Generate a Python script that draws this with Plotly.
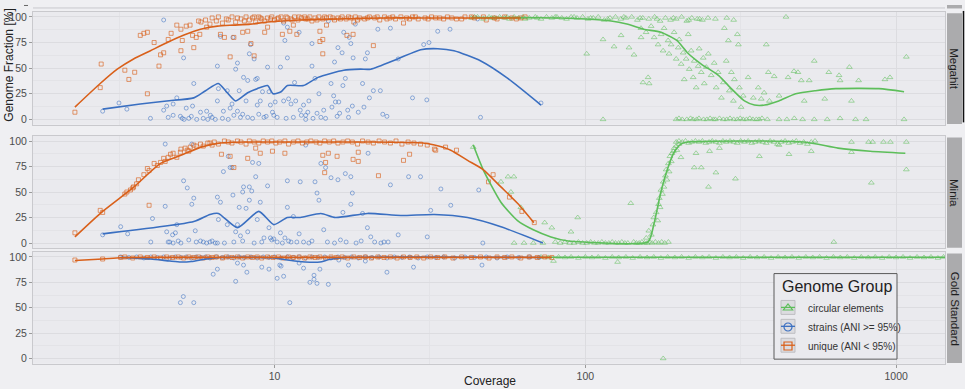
import plotly.graph_objects as go

# ---------------- data: (coverage, genome fraction %) ----------------
# ---- Megahit ----
megahit_unique = [
 (2.28,7),(2.75,31),(2.77,54),(3.3,48),(3.4,39),(3.55,46),(3.7,82),(3.8,84),(3.9,85),(3.9,25),
 (4.1,75),(4.25,52),(4.3,63),(4.4,65),(4.55,78),(4.65,84),(4.85,92),(5.0,67),(5.0,88),(5.05,77),
 (5.2,91),(5.35,92),(5.5,70),(5.45,82),(5.6,80),(5.7,96),(5.75,83),(6.05,90),(6.7,83),(6.9,80),
 (7.2,61),(7.4,80),(7.9,85),(8.2,86),(8.4,74),(8.6,62),(9.3,85),(9.5,90),(10.6,83),(11.2,86),
 (11.5,92),(11.8,83),(14.0,76),(14.3,78),(14.3,64),(14.7,92),(14.0,86),(17.1,82),(17.9,83),(18.0,95),
 (20.8,72),(26,94),(48,97),
 (5.8,95),(6.0,97),(6.2,93),(6.3,99),(6.5,96),(6.6,100),(6.8,94),(7.0,98),(7.1,97),(7.3,100),
 (7.5,95),(7.6,99),(7.8,98),(8.0,96),(8.1,100),(8.3,97),(8.5,99),(8.7,95),(8.9,100),(9.1,98),
 (9.3,96),(9.5,99),(9.8,100),(10.0,97),(10.2,98),(10.5,100),(10.7,96),(11.0,99),(11.3,98),(11.6,100),
 (11.9,97),(12.2,99),(12.5,100),(12.8,98),(13.2,96),(13.5,99),(13.9,100),(14.3,98),(14.7,99),(15.1,100),
 (15.6,97),(16.0,99),(16.5,100),(17.0,98),(17.6,99),(18.2,100),(18.8,99),(19.5,98),(20.2,100),(21.0,99),
 (21.8,97),(22.6,100),(23.5,99),(24.5,98),(25.5,100),(26.6,99),(27.8,100),(29.0,98),(30.5,99),(32.0,100),
 (34.0,99),(36.0,100),(38.5,98),(41.0,100),(44.0,99),(47.0,100),(51.0,99),(55.0,100),(60.0,98),(64.0,100),
 (8.6,100),(9.0,99),(9.7,98),(10.3,99),(10.9,100),(11.4,97),(12.0,100),(12.6,98),(13.0,100),(13.7,97),
 (14.5,100),(15.4,99),(16.3,98),(17.3,100),(18.5,97),(19.9,99),(21.4,100),(23.0,98),(24.0,100),(27.2,98),
 (28.4,100),(31.2,98),(33.0,99),(35.0,98),(37.2,99),(40.0,98),(43.0,100),(52.0,98),(58.0,99),(62.0,99),
]
megahit_unique_fit = [
 (2.28,12),(2.75,35),(3.12,49),(3.52,59),(3.99,67),(4.52,75),(5.09,82),(5.78,88),(6.55,91),(7.38,92),
 (8.37,93),(9.5,95),(12.1,97),(16,98),(22,99),(30,99),(45,99),(62,99),
]
megahit_strains = [
 (2.8,8),(3.16,16),(3.35,10),(3.99,1),(4.4,97),(4.4,9),(4.5,13),(4.55,2),(4.72,15),(4.72,4),
 (4.85,21),(4.98,3),(5.05,1),(5.1,60),(5.12,0),(5.2,11),(5.3,1),(5.45,13),(5.5,35),(5.62,0),
 (5.78,7),(5.9,1),(6.05,8),(6.1,0),(6.22,4),(6.45,0),(6.55,18),(6.55,52),(6.6,30),(6.7,81),
 (6.85,8),(7.05,28),(7.1,0),(7.2,11),(7.3,15),(7.35,80),(7.5,49),(7.6,8),(7.6,55),(7.7,28),
 (7.77,2),(7.9,5),(7.95,41),(8.1,18),(8.2,2),(8.2,38),(8.3,64),(8.37,73),(8.6,59),(8.7,39),
 (8.8,40),(8.8,14),(8.9,5),(9.0,18),(9.15,27),(9.25,2),(9.5,51),(9.6,27),(9.7,14),(9.85,7),
 (9.95,4),(10.05,17),(10.2,2),(10.45,51),(10.7,18),(10.7,94),(10.8,77),(11.0,60),(11.0,90),(11.1,20),
 (11.3,15),(11.6,36),(11.7,18),(12.0,85),(12.1,9),(12.2,4),(12.4,14),(12.6,4),(12.8,7),(12.9,18),
 (13.2,74),(13.2,52),(13.3,1),(13.5,40),(13.7,6),(13.9,25),(14.4,9),(14.6,1),(14.9,96),(15.2,35),
 (15.3,12),(15.5,23),(15.6,56),(15.7,17),(16.0,70),(16.1,17),(16.2,6),(16.5,65),(16.6,33),(16.7,85),
 (16.9,40),(17.2,9),(17.3,2),(17.4,80),(17.6,74),(17.8,13),(17.9,60),(18.2,93),(18.6,7),(19.2,35),
 (19.4,12),(19.6,59),(19.9,65),(20.2,21),(20.8,28),(21.5,88),(21.9,28),(22.3,5),(23.0,3),(23.6,89),
 (25.0,59),(27.8,21),(30.2,73),(30.9,19),(31.4,75),(33.5,86),(36.7,88),(46.0,2),(72.0,16),(45.0,98),
 (5.4,3),(6.3,2),(6.8,1),(7.4,4),(8.5,1),(9.4,3),(10.9,1),(11.5,2),(12.6,0),(14.1,2),(15.9,3),
]
megahit_strains_fit = [
 (2.8,10),(3.7,15),(4.5,18),(5.5,21),(6.0,28),(6.6,35),(7.0,27),(7.5,18),(8.2,26),(8.8,30),
 (9.5,33),(9.9,25),(10.5,27),(11,33),(12.4,33),(13.8,41),(16.7,48),(18.9,49),(20.4,49),(24.9,59),
 (29.5,68),(33.5,69),(37.8,67),(46.1,57),(56.3,40),(72,14),
]
megahit_circular = [
 (43,99),(45,100),(47,98),(49,100),(51,99),(53,100),(55,99),(57,98),(59,100),(61,99),
 (63,100),(66,99),(69,100),(72,98),(75,100),(78,99),(81,100),(84,99),(87,98),(90,100),
 (94,99),(98,100),(102,98),(106,99),(110,100),(115,97),(120,99),(125,100),(130,98),(135,99),
 (141,100),(147,97),(153,99),(160,98),(167,100),(174,96),(181,99),(188,97),(196,98),(204,100),
 (212,96),(220,99),(229,98),(238,97),(248,99),(262,98),(285,99),(300,97),(442,100),
 (44,100),(50,99),(56,100),(64,98),(70,99),(80,100),(92,100),(104,99),(118,98),(133,100),
 (150,99),(170,98),(192,99),(215,97),(233,98),
 (114,0),(196,0),(200,1),(205,0),(212,0),(218,1),(222,0),(228,0),(232,1),(240,0),
 (246,0),(252,1),(258,0),(262,0),(270,1),(278,0),(285,0),(292,1),(300,0),(308,0),
 (315,1),(322,0),(330,0),(338,1),(346,0),(355,0),(362,0),(370,1),(385,0),(420,0),
 (445,0),(470,1),(500,0),(545,0),(600,0),(660,1),(740,0),(800,0),(1060,0),
 (101,64),(114,78),(123.7,71),(130.3,82),(138.2,70),(143.4,63),(151.1,80),(153.3,36),(159.2,41),(160.4,35),
 (151,89),(156.8,85),(162.8,91),(166.5,80),(171.4,73),(175.3,83),(177.9,67),(179.2,89),(184.6,77),(185.9,64),
 (188.8,73),(193,85),(196,59),(199,70),(200.4,78),(203.4,54),(206.4,65),(208,39),(211,59),(214.3,83),
 (215.9,49),(219,67),(222.3,41),(224,57),(227.3,31),(230.7,52),(232.4,69),(236,46),(239.5,60),(241.3,35),
 (245,51),(248.6,64),(254,43),(259.7,55),(263.6,31),(267.5,46),(274,21),(278,36),(280,89),(284,57),
 (288.5,77),(290.6,28),(295,46),(299.4,18),(301.6,39),(308.4,83),(310.7,73),(313,31),(317,12),(322,23),
 (334,41),(347,21),(360,31),(368,20),(376,26),(382,73),(388,46),(391,18),(405,42),(420,23),
 (449,41),(469,47),(483,46),(495,38),(506,18),(525,38),(545,57),(589,20),(607,46),(655,43),
 (660,38),(707,51),(718,18),(757,38),(920,39),(955,41),(1078,61),
]
megahit_circular_fit = [
 (43,99.5),(60,99.3),(83.5,99),(100,98),(121,96),(136,93),(154,88),(175,85),(197,77),(213,65),
 (236,54),(268,43),(295,30),(325,18),(350,14),(378,14),(419,18),(475,25),(550,28),(640,30),
 (880,30),(1060,27),
]

# ---- Minia ----
minia_unique = [
 (2.28,10),(2.75,32),(2.8,30),(3.3,48),(3.35,50),(3.44,52),(3.5,54),(3.52,55),(3.6,58),(3.65,62),
 (3.8,67),(3.9,73),(3.95,71),(3.95,37),(4.1,78),(4.2,76),(4.3,79),(4.4,83),(4.45,80),(4.55,84),
 (4.63,87),(4.72,88),(4.85,84),(4.98,89),(5.0,92),(5.16,93),(5.24,91),(5.3,90),(5.36,94),(5.5,96),
 (5.6,95),(5.78,97),(5.9,95),(6.1,98),(6.3,96),
 (6.2,98),(6.4,99),(6.6,97),(6.9,100),(7.1,99),(7.3,98),(7.6,100),(7.8,99),(8.1,97),(8.3,100),
 (8.6,99),(8.9,98),(9.2,100),(9.5,99),(9.8,100),(10.1,98),(10.4,99),(10.8,100),(11.1,97),(11.5,99),
 (11.9,100),(12.3,98),(12.7,99),(13.1,100),(13.6,99),(14.0,98),(14.5,100),(15.0,99),(15.5,100),(16.0,98),
 (16.6,99),(17.2,100),(17.8,99),(18.5,97),(19.2,100),(20.0,99),(20.8,98),(21.7,100),(22.6,99),(23.6,98),
 (24.6,100),(25.7,97),(26.9,99),(28.1,98),(29.5,97),(31.0,96),
 (6.75,87),(7.2,85),(7.4,74),(8.2,83),(8.7,93),(9.0,88),(9.85,90),(10.8,88),(14.3,86),(14.9,88),
 (15.9,85),(14.6,79),(14.5,69),(17.9,82),(18.6,80),(18.6,89),(21.6,66),(26.0,81),(27.2,87),(32.7,92),
 (33,91),(35.5,94),(38.5,91),(48.8,60),(50.5,67),(57,45),(62.5,31),(68.5,20),
]
minia_unique_fit = [
 (2.28,6),(2.8,31),(3.5,54),(4.3,78),(5.0,86),(5.8,94),(6.7,98),(8,99),(12,99),(20,99),
 (30,98),(32.7,96),(36.9,91),(41.8,81),(46.9,72),(53.5,55),(60.5,39),(68.3,20),
]
minia_strains = [
 (2.8,8),(3.2,16),(3.37,9),(4.0,1),(4.05,24),(4.45,36),(4.45,97),(4.5,11),(4.55,1),(4.7,8),
 (4.72,0),(4.8,10),(4.85,18),(5.1,61),(5.24,54),(5.42,97),(5.42,38),(5.5,44),(5.56,12),(5.6,1),
 (5.78,2),(6.05,0),(6.2,1),(6.45,0),(6.55,0),(6.55,45),(6.6,23),(6.7,40),(6.85,70),(7.05,18),
 (7.1,85),(7.2,74),(7.3,74),(7.35,47),(7.5,11),(7.6,18),(7.7,35),(7.77,7),(7.9,50),(7.95,55),
 (8.1,34),(8.2,11),(8.3,42),(8.3,55),(8.45,51),(8.5,79),(8.7,65),(8.8,23),(8.9,78),(9.0,40),
 (9.25,5),(9.5,56),(9.6,15),(9.7,5),(9.95,4),(10.2,1),(10.45,10),(10.8,5),(11,61),(11,35),
 (11.3,1),(11.5,26),(11.8,1),(12,9),
 (12.1,60),(12.6,96),(13.5,60),(13.7,49),(13.9,42),(14.1,78),(14.6,74),(14.4,13),(15.2,64),(16,62),
 (16.6,30),(16.9,68),(17.6,65),(17.8,49),(17.6,38),(19.2,29),(20,88),(19.9,15),(20.4,6),(22,0),
 (23.6,57),(25,8),(27,65),(29.5,65),(31,6),(31.8,32),(34.3,53),(36.9,37),(45.4,52),(46.8,0),
 (22.5,1),(23.2,1),
 (4.6,1),(4.9,2),(5.0,0),(5.3,3),(5.9,1),(6.3,2),(6.9,0),(7.4,1),(7.9,2),(8.6,0),
 (9.1,1),(9.8,3),(10.6,0),(11.1,2),(12.4,1),(12.9,0),(13.2,2),(14.8,1),(15.6,0),(16.3,3),
 (17.0,1),(18.3,0),(19.0,2),(21.0,1),
]
minia_strains_fit = [
 (2.8,9),(5.5,21),(6.2,28),(6.6,29),(7.6,15),(8.9,31),(9.95,18),(11,25),(12.1,25),(14.1,29),
 (15.7,25),(19.9,29),(25.5,27),(32.7,28),(41.8,25),(53.5,16),(73,0),
]
minia_circular = [
 (43.6,94),(53.5,60),(56.4,65),(57.6,50),(58.9,65),(62,35),(74,20),(78,15),(89.9,11),(94.5,25),
 (59,0),(63.5,0),(68,0),(73,0),
 (80,1),(83,0),(86,1),(89,0),(92,0),(95,1),(98,0),(101,0),(104,1),(107,0),
 (110,0),(113,1),(116,0),(119,0),(122,1),(125,0),(128,0),(131,1),(134,0),(137,0),
 (143,1),(146,0),(149,0),(152,1),(155,0),(158,0),(161,1),(164,0),(168,1),(172,0),
 (176,1),(180,0),(185,1),(140,39),(630,1),
 (157,5),(160,12),(163,8),(165,18),(166,25),(169,30),(171,22),(172,38),(173,44),(174,35),
 (175,52),(177,48),(178,60),(179,55),(181,66),(182,72),(183,62),(185,78),(186,70),(187,85),
 (189,80),(190,88),(192,90),(193,93),(196,95),(197,91),(200,97),
 (196,99),(200,100),(205,99),(210,100),(215,98),(220,99),(226,100),(232,99),(238,100),(244,98),
 (250,99),(256,100),(263,99),(270,98),(277,100),(284,99),(292,100),(300,99),(308,98),(316,100),
 (325,99),(334,100),(343,98),(352,99),(362,100),(372,99),(382,98),(393,100),(404,99),(415,97),
 (427,99),(439,100),(451,98),(464,99),(477,100),(490,98),(504,99),(518,97),(533,99),(548,100),
 (203,84),(227,88),(224,74),(236,74),(249,55),(251,90),(263,69),(270,93),(304,63),(363,85),
 (420,96),(452,87),(533,90),(718,89),(832,59),(1078,72),(1078,99),
 (718,99),(815,99),(840,99),(910,99),(958,99),
]
minia_circular_fit = [
 (43.6,96),(46.9,72),(53.5,40),(60.5,22),(68,13),(77.5,6),(88,2),(99,1),(159,1),(166,18),
 (175,50),(184,73),(193,89),(203,97),(213,99),(505,99),(650,93),(825,90),(1070,88),
]

# ---- Gold Standard ----
gold_unique = [
 (2.28,97),(2.8,98),(3.2,99.5),
 (3.3,100),(3.5,99),(3.7,100),(3.9,99.5),(4.1,100),(4.3,99),(4.5,100),(4.7,99.5),(4.9,100),(5.1,99),
 (5.3,100),(5.5,99.5),(5.7,100),(5.9,99),(6.1,100),(6.3,99.5),(6.5,100),(6.8,99),(7.0,100),(7.3,99.5),
 (7.6,100),(7.9,99),(8.2,100),(8.5,99.5),(8.8,100),(9.1,99),(9.5,100),(9.9,99.5),(10.3,100),(10.7,99),
 (11.1,100),(11.5,99.5),(12.0,100),(12.5,99),(13.0,100),(13.5,99.5),(14.0,100),(14.6,99),(15.2,100),(15.8,99.5),
 (16.5,100),(17.2,99),(18.0,100),(18.8,99.5),(19.6,100),(20.5,99),(21.5,100),(22.5,99.5),(23.6,100),(24.8,99),
 (26.0,100),(27.3,99.5),(28.7,100),(30.2,99),(31.8,100),(33.5,99.5),(35.3,100),(37.5,99),(40,100),(43,99.5),
 (46,100),(49,99),(52,100),(55,99.5),(58,100),(62,99),(66,100),(70,99.5),(74,100),(78,99.5),
]
gold_unique_fit = [(2.28,96.5),(2.8,98),(3.2,99.3),(4.0,99.6),(78,99.6)]
gold_strains = [
 (3.2,100),(3.4,99.5),(3.6,100),(3.8,99),(4.0,100),(4.2,99.5),(4.4,100),(4.6,99),(4.8,100),(5.0,99.5),
 (5.2,100),(5.4,99),(5.6,100),(5.8,99.5),(6.0,100),(6.2,99),(6.5,100),(6.8,99.5),(7.1,100),(7.4,99),
 (7.7,100),(8.0,99.5),(8.4,100),(8.8,99),(9.2,100),(9.6,99.5),(10.0,100),(10.5,99),(11.0,100),(11.5,99.5),
 (12.0,100),(12.6,99),(13.2,100),(13.8,99.5),(14.5,100),(15.2,99),(16.0,100),(16.8,99.5),(17.7,100),(18.6,99),
 (19.6,100),(20.6,99.5),(21.7,100),(23.0,99),(24.3,100),(25.7,99.5),(27.2,100),(29,99),(31,100),(33,99.5),
 (35,100),(38,99),(41,100),(44,99.5),(48,100),(52,99),(56,100),(61,99.5),(66,100),(71,99.5),
 (4.98,55),(5.09,61),(5.5,55),(6.35,83),(6.55,88),(7.5,76),(7.6,94),(7.95,92),(8.15,85),(9.1,90),
 (9.6,88),(10.2,79),(10.4,92),(10.7,81),(11.2,55),(12.0,94),(12.4,89),(13.0,75),(13.4,82),(13.4,78),
 (13.7,74),(14.0,88),(14.9,73),(16.1,97),(17.3,92),(19.6,96),(23.0,85),(28.0,90),(46.5,92),(10.5,91),
]
gold_strains_fit = [
 (3.2,99.6),(4.0,98),(4.6,96),(5.0,95),(5.4,95.5),(5.9,97.5),(6.5,99.3),(9,99.5),(10,99),(11,97),
 (12,95.5),(13,94.8),(14,95),(15,97.5),(16.5,99.3),(72,99.5),
]
gold_circular = [
 (72,100),(76,99.5),(79,96),(82,100),(86,99.5),(90,100),(95,99),(100,100),(105,99.5),(110,100),
 (116,99),(122,100),(127,95),(128,99.5),(135,100),(142,99),(150,100),(158,99.5),(166,100),(175,99),
 (178,0),(184,100),(194,99.5),(204,100),(215,99),(226,100),(238,99.5),(250,100),(263,99),(277,100),
 (291,99.5),(306,100),(322,99),(339,100),(357,99.5),(376,100),(396,99),(417,100),(439,99.5),(462,100),
 (486,99),(512,100),(539,99.5),(567,100),(597,99),(628,100),(661,99.5),(696,100),(733,99),(772,100),
 (813,99.5),(856,100),(901,99),(949,100),(999,99.5),(1052,100),(1108,99),(1167,100),(1229,99.5),(1294,100),
 (1362,99),(1420,100),
]
gold_circular_fit = [(72,99.8),(300,99.8),(1440,99.8)]

tick_x = [10, 100, 1000]
tick_x_text = ["10", "100", "1000"]
tick_y = [0, 25, 50, 75, 100]
tick_y_text = ["0", "25", "50", "75", "100"]
facets = ["Megahit", "Minia", "Gold Standard"]
groups = ["circular elements", "strains (ANI >= 95%)", "unique (ANI < 95%)"]

# ---------------- styling ----------------
GREEN = "#5DBE5A"
BLUE = "#3A6FC1"
ORANGE = "#D9601A"
GREEN_PT = "rgba(93,190,90,0.6)"
BLUE_PT = "rgba(58,111,193,0.6)"
ORANGE_PT = "rgba(217,96,26,0.7)"
FONT = "Liberation Sans, Arial, Helvetica, sans-serif"
W, H = 965, 389
PAPER_BG = "#EFEFF2"
PANEL_BG = "#EAEAEE"
GRID = "#DCDCE0"
GRID_MINOR = "#E3E3E7"
BORDER = "#C9C9CD"


def fx(p):
    return p / W


def fy(p):
    return 1 - p / H


panel_py = [(10.85, 124.15), (135.6, 248.4), (252.2, 364.4)]
x_dom = [fx(33), fx(945)]

fig = go.Figure()


def ax(i):
    return ("x", "y") if i == 1 else (f"x{i}", f"y{i}")


def pts(data, axis_i, color, symbol, size):
    xa, ya = ax(axis_i)
    fig.add_trace(go.Scatter(
        x=[d[0] for d in data], y=[d[1] for d in data], mode="markers",
        showlegend=False, hoverinfo="skip",
        marker=dict(symbol=symbol, size=size, color=color, line=dict(width=0.9, color=color)),
        xaxis=xa, yaxis=ya,
    ))


def fit(data, axis_i, color):
    xa, ya = ax(axis_i)
    fig.add_trace(go.Scatter(
        x=[d[0] for d in data], y=[d[1] for d in data], mode="lines",
        showlegend=False, hoverinfo="skip",
        line=dict(color=color, width=1.6, shape="spline", smoothing=0.6),
        xaxis=xa, yaxis=ya,
    ))


panels = [
    (megahit_circular, megahit_circular_fit, megahit_strains, megahit_strains_fit, megahit_unique, megahit_unique_fit),
    (minia_circular, minia_circular_fit, minia_strains, minia_strains_fit, minia_unique, minia_unique_fit),
    (gold_circular, gold_circular_fit, gold_strains, gold_strains_fit, gold_unique, gold_unique_fit),
]
for i, (c, cf, s, sf, u, uf) in enumerate(panels, start=1):
    pts(c, i, GREEN_PT, "triangle-up-open", 5)
    pts(s, i, BLUE_PT, "circle-open", 4)
    pts(u, i, ORANGE_PT, "square-open", 4)
    fit(cf, i, GREEN)
    fit(sf, i, BLUE)
    fit(uf, i, ORANGE)

# legend entries (keys drawn by plotly, box and title drawn separately)
for name, col, sym in zip(groups, [GREEN, BLUE, ORANGE], ["triangle-up-open", "circle-open", "square-open"]):
    fig.add_trace(go.Scatter(
        x=[None], y=[None], mode="markers", name=name,
        marker=dict(symbol=sym, size=8, color=col, line=dict(width=1.2, color=col)),
        xaxis="x3", yaxis="y3",
    ))

LEG_ROWS = [308, 327, 346]

layout = dict(
    width=W, height=H,
    margin=dict(l=0, r=0, t=0, b=0),
    paper_bgcolor=PAPER_BG,
    plot_bgcolor=PANEL_BG,
    font=dict(family=FONT, color="#4D4D4D", size=11),
    legend=dict(
        x=fx(768), y=fy(294), xanchor="left", yanchor="top",
        bgcolor="rgba(0,0,0,0)", borderwidth=0,
        font=dict(size=10, color="#333333"), tracegroupgap=0, itemwidth=30,
    ),
    shapes=[], annotations=[],
)

for i, (top, bot) in enumerate(panel_py, start=1):
    xk = "xaxis" if i == 1 else f"xaxis{i}"
    yk = "yaxis" if i == 1 else f"yaxis{i}"
    last = i == 3
    layout[xk] = dict(
        type="log", range=[0.2231, 3.157], domain=x_dom,
        anchor="y" if i == 1 else f"y{i}",
        tickvals=tick_x, ticktext=tick_x_text, showticklabels=last,
        ticks="outside" if last else "", ticklen=3, tickcolor="#9A9A9A",
        tickfont=dict(size=10.5, color="#4D4D4D"),
        showgrid=True, gridcolor=GRID, gridwidth=1,
        minor=dict(tickvals=[3.1623, 31.623, 316.23], showgrid=True, gridcolor=GRID_MINOR, gridwidth=0.6, ticks=""),
        showline=True, mirror=True, linecolor=BORDER, linewidth=1, zeroline=False,
    )
    if i > 1:
        layout[xk]["matches"] = "x"
    layout[yk] = dict(
        range=[-5, 105], domain=[fy(bot), fy(top)],
        anchor="x" if i == 1 else f"x{i}",
        tickvals=tick_y, ticktext=tick_y_text,
        ticks="outside", ticklen=3, tickcolor="#9A9A9A",
        tickfont=dict(size=10.5, color="#4D4D4D"),
        showgrid=True, gridcolor=GRID, gridwidth=1,
        minor=dict(tickvals=[12.5, 37.5, 62.5, 87.5], showgrid=True, gridcolor=GRID_MINOR, gridwidth=0.6, ticks=""),
        showline=True, mirror=True, linecolor=BORDER, linewidth=1, zeroline=False,
    )
    # facet strip
    layout["shapes"].append(dict(type="rect", xref="paper", yref="paper",
                                 x0=fx(947), x1=fx(962), y0=fy(bot - 0.5), y1=fy(top + 1.5),
                                 fillcolor="#ABABAD", line=dict(width=0), layer="below"))
    layout["annotations"].append(dict(text=facets[i - 1], xref="paper", yref="paper",
                                      x=fx(954.5), y=fy((top + bot) / 2 + 0.5), textangle=90,
                                      showarrow=False, font=dict(size=11.5, color="#1E1E1E"),
                                      xanchor="center", yanchor="middle"))

# decorations from the panel above (cut off at the top)
layout["shapes"].append(dict(type="line", xref="paper", yref="paper", x0=fx(33), x1=fx(945),
                             y0=fy(7), y1=fy(7), line=dict(color=BORDER, width=1)))
layout["shapes"].append(dict(type="rect", xref="paper", yref="paper", x0=fx(947), x1=fx(962),
                             y0=fy(7.5), y1=fy(4), fillcolor="#ABABAD", line=dict(width=0)))
layout["shapes"].append(dict(type="line", xref="paper", yref="paper", x0=fx(24), x1=fx(28),
                             y0=fy(4.5), y1=fy(4.5), line=dict(color="#666666", width=1)))
layout["shapes"].append(dict(type="line", xref="paper", yref="paper", x0=fx(963.5), x1=fx(963.5),
                             y0=fy(122), y1=fy(10), line=dict(color="#111111", width=1.5)))

# legend box, title and key backgrounds
layout["shapes"].append(dict(type="rect", xref="paper", yref="paper", x0=fx(774), x1=fx(897),
                             y0=fy(360), y1=fy(274), fillcolor=PANEL_BG,
                             line=dict(color="#5A5A5A", width=1), layer="above"))
for k, yc in enumerate(LEG_ROWS):
    layout["shapes"].append(dict(type="rect", xref="paper", yref="paper", x0=fx(781), x1=fx(795),
                                 y0=fy(yc + 7), y1=fy(yc - 7), fillcolor="#DCDCE0",
                                 line=dict(color="#BDBDC1", width=1), layer="above"))
    layout["shapes"].append(dict(type="line", xref="paper", yref="paper", x0=fx(781), x1=fx(795),
                                 y0=fy(yc), y1=fy(yc), line=dict(color=[GREEN, BLUE, ORANGE][k], width=1.3),
                                 layer="above"))
layout["annotations"].append(dict(text="Genome Group", xref="paper", yref="paper",
                                  x=fx(780), y=fy(287), showarrow=False, xanchor="left", yanchor="middle",
                                  font=dict(size=16, color="#222222")))

layout["annotations"].append(dict(text="Genome Fraction [%]", xref="paper", yref="paper",
                                  x=fx(9), y=fy(65), textangle=-90, showarrow=False,
                                  font=dict(size=12, color="#222222"), xanchor="center", yanchor="middle"))
layout["annotations"].append(dict(text="Coverage", xref="paper", yref="paper",
                                  x=fx(490), y=fy(382), showarrow=False,
                                  font=dict(size=12, color="#222222"), xanchor="center", yanchor="middle"))

fig.update_layout(**layout)
fig.write_html(
    "out.html",
    config={"displayModeBar": False},
    post_script="document.body.style.margin='0px';document.body.style.background='" + PAPER_BG + "';",
)
